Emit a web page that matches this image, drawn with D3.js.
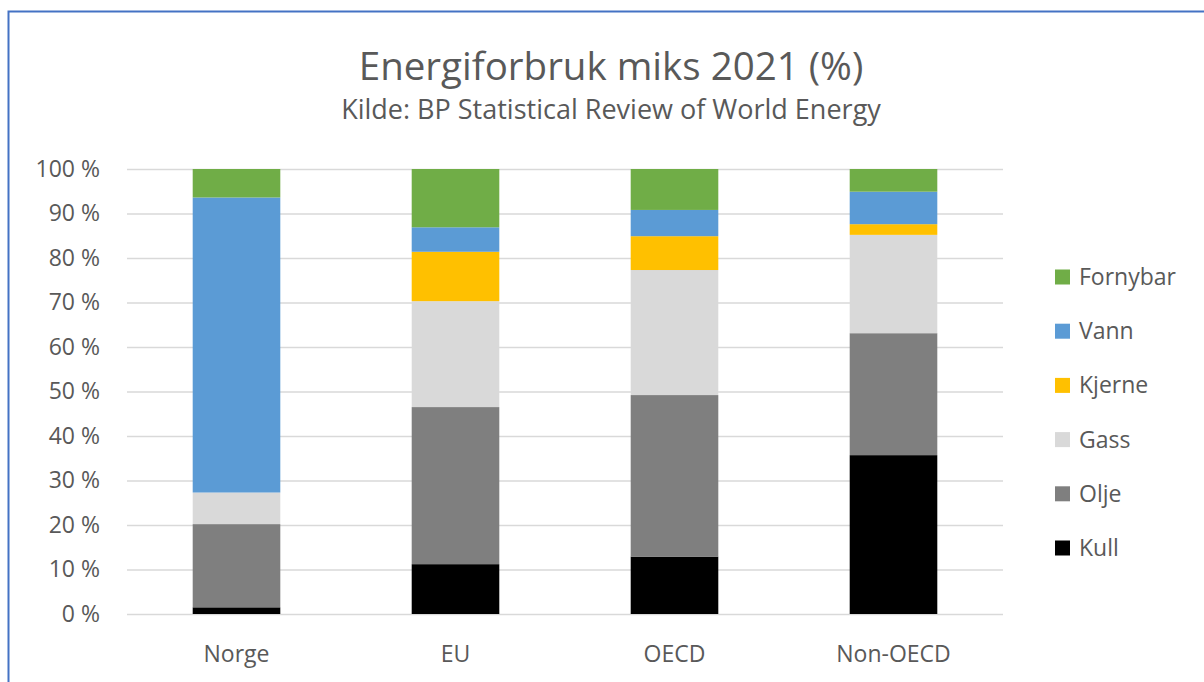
<!DOCTYPE html>
<html lang="no">
<head>
<meta charset="UTF-8">
<title>Energiforbruk miks 2021</title>
<style>
  body { margin: 0; background: #fff; }
  text { font-family: "Open Sans", Lato, sans-serif; fill: #595959; }
</style>
</head>
<body>
<svg id="svg" width="1204" height="682"></svg>
<script src="https://d3js.org/d3.v7.min.js"></script>
<script>
// ------ DATA ------------------------
const regions = ['Norge', 'EU', 'OECD', 'Non-OECD']
const sources = ['Kull', 'Olje', 'Gass', 'Kjerne', 'Vann', 'Fornybar']
const kull     = [1.5, 11.2, 12.9, 35.7]
const olje     = [18.7, 35.3, 36.3, 27.4]
const gass     = [7.1, 23.8, 28.1, 22.1]
const kjerne   = [0.0, 11.1, 7.6, 2.4]
const vann     = [66.3, 5.5, 5.9, 7.3]
const fornybar = [6.4, 13.1, 9.2, 5.1]
const yTicks = [0, 10, 20, 30, 40, 50, 60, 70, 80, 90, 100]

const colors = {
  Kull: '#000000', Olje: '#7f7f7f', Gass: '#d9d9d9',
  Kjerne: '#ffc000', Vann: '#5b9bd5', Fornybar: '#70ad47'
}

// table for d3.stack
const series = { Kull: kull, Olje: olje, Gass: gass, Kjerne: kjerne, Vann: vann, Fornybar: fornybar }
const table = regions.map((r, i) => {
  const row = { region: r }
  sources.forEach(s => { row[s] = series[s][i] })
  return row
})

// ------ LAYOUT ------------------------
const margin = { top: 169, left: 127, right: 201, bottom: 68 }
const W = 1204, H = 682
const svg = d3.select('#svg')

// frame
svg.append('rect')
  .attr('x', 8.5).attr('y', 11.5)
  .attr('width', W + 20).attr('height', H + 20)
  .attr('fill', 'none').attr('stroke', '#4472c4').attr('stroke-width', 2)

// ------ SCALES ------------------------
const x = d3.scaleBand()
  .domain(regions)
  .range([margin.left, W - margin.right])
  .paddingInner(0.6)
  .paddingOuter(0.3)

const y = d3.scaleLinear()
  .domain([0, 100])
  .range([H - margin.bottom, margin.top])

// gridlines + y labels
const leftAxis = d3.axisLeft(y)
  .tickValues(yTicks)
  .tickSize(-(W - margin.right - margin.left))
  .tickPadding(27)
  .tickFormat(d => d + ' %')

const gy = svg.append('g')
  .attr('transform', `translate(${margin.left},0)`)
  .call(leftAxis)
gy.select('.domain').remove()
gy.selectAll('line').attr('stroke', '#d9d9d9').attr('stroke-width', 1.5)
gy.selectAll('text').attr('font-size', 23).style('fill', '#595959')

// ------ BARS ------------------------
const stacked = d3.stack().keys(sources)(table)

svg.append('g')
  .selectAll('g')
  .data(stacked)
  .join('g')
  .attr('fill', d => colors[d.key])
  .selectAll('rect')
  .data(d => d)
  .join('rect')
  .attr('x', d => x(d.data.region))
  .attr('y', d => y(d[1]))
  .attr('width', x.bandwidth())
  .attr('height', d => y(d[0]) - y(d[1]))

// x axis
const bottomAxis = d3.axisBottom(x).tickSize(0).tickPadding(32)
const gx = svg.append('g')
  .attr('transform', `translate(0,${H - margin.bottom})`)
  .call(bottomAxis)
gx.select('.domain').remove()
gx.selectAll('text').attr('font-size', 23).style('fill', '#595959')

// ------ TITLE ------------------------
svg.append('text')
  .attr('x', 611).attr('y', 80)
  .attr('text-anchor', 'middle')
  .attr('font-size', 38.5)
  .text('Energiforbruk miks 2021 (%)')

svg.append('text')
  .attr('x', 611).attr('y', 119)
  .attr('text-anchor', 'middle')
  .attr('font-size', 27)
  .text('Kilde: BP Statistical Review of World Energy')

// ------ LEGEND ------------------------
const legendOrder = sources.slice().reverse()
const legend = svg.append('g')
  .selectAll('g')
  .data(legendOrder)
  .join('g')
  .attr('transform', (d, i) => `translate(1055,${277 + i * 54.2})`)

legend.append('rect')
  .attr('x', 0).attr('y', -7.5)
  .attr('width', 15).attr('height', 15)
  .attr('fill', d => colors[d])

legend.append('text')
  .attr('x', 24).attr('y', 0)
  .attr('dy', '0.35em')
  .attr('font-size', 23)
  .text(d => d)
</script>
</body>
</html>
